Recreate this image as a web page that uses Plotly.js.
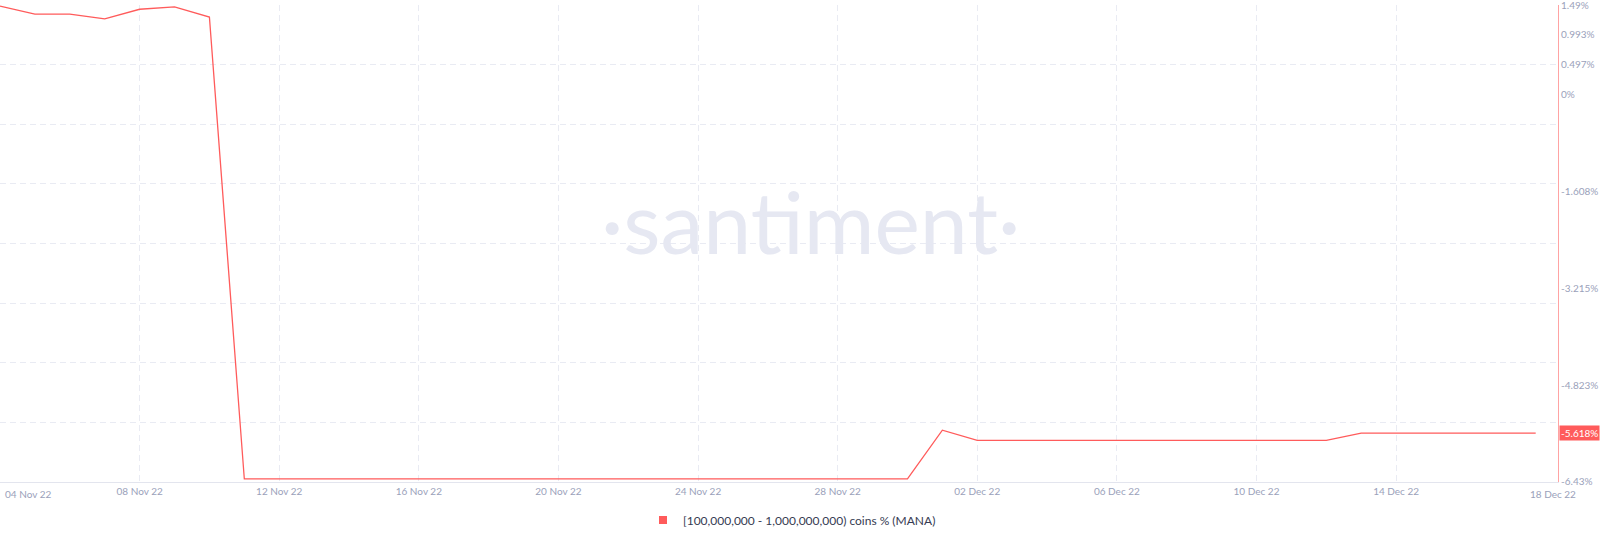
<!DOCTYPE html>
<html>
<head>
<meta charset="utf-8">
<script src="https://cdn.plot.ly/plotly-3.0.1.min.js"></script>
<style>
  html, body { margin: 0; padding: 0; background: #ffffff; }
  #chart { width: 1600px; height: 541px; }
</style>
</head>
<body>
<div id="chart"></div>
<script>
const dates = [
  '2022-11-04','2022-11-05','2022-11-06','2022-11-07','2022-11-08','2022-11-09','2022-11-10',
  '2022-11-11','2022-11-12','2022-11-13','2022-11-14','2022-11-15','2022-11-16','2022-11-17',
  '2022-11-18','2022-11-19','2022-11-20','2022-11-21','2022-11-22','2022-11-23','2022-11-24',
  '2022-11-25','2022-11-26','2022-11-27','2022-11-28','2022-11-29','2022-11-30',
  '2022-12-01','2022-12-02','2022-12-03','2022-12-04','2022-12-05','2022-12-06','2022-12-07',
  '2022-12-08','2022-12-09','2022-12-10','2022-12-11','2022-12-12',
  '2022-12-13','2022-12-14','2022-12-15','2022-12-16','2022-12-17','2022-12-18'
];
const values = [
  1.473, 1.34, 1.34, 1.26, 1.42, 1.46, 1.29,
  -6.38, -6.38, -6.38, -6.38, -6.38, -6.38, -6.38,
  -6.38, -6.38, -6.38, -6.38, -6.38, -6.38, -6.38,
  -6.38, -6.38, -6.38, -6.38, -6.38, -6.38,
  -5.57, -5.74, -5.74, -5.74, -5.74, -5.74, -5.74,
  -5.74, -5.74, -5.74, -5.74, -5.74,
  -5.618, -5.618, -5.618, -5.618, -5.618, -5.618
];
const seriesName = '[100,000,000 - 1,000,000,000) coins % (MANA)';
const lastValueLabel = '-5.618%';

const xTickVals = ['2022-11-04','2022-11-08','2022-11-12','2022-11-16','2022-11-20','2022-11-24',
                   '2022-11-28','2022-12-02','2022-12-06','2022-12-10','2022-12-14'];
const xTickText = ['', '08 Nov 22','12 Nov 22','16 Nov 22','20 Nov 22','24 Nov 22',
                   '28 Nov 22','02 Dec 22','06 Dec 22','10 Dec 22','14 Dec 22'];
const firstDateLabel = '04 Nov 22';
const lastDateLabel = '18 Dec 22';

const yTickVals = [1.49, 0.993, 0.497, 0, -1.608, -3.215, -4.823, -6.43];
const yTickText = ['1.49%', '0.993%', '0.497%', '0%', '-1.608%', '-3.215%', '-4.823%', '-6.43%'];
const yGridVals = [1.49, 0.50, -0.49, -1.48, -2.47, -3.46, -4.45, -5.44];
const yRange = [-6.4305, 1.4905];
const xRange = ['2022-11-04 00:00', '2022-12-18 15:20'];

const lineColor = '#ff5b5b';
const tickColor = '#9aa1ba';
const gridColor = '#e9ebf3';
const fontFam = 'Lato, "Open Sans", sans-serif';

const traces = [
  {
    x: [null], y: [null], type: 'scatter', mode: 'markers',
    marker: { symbol: 'square', size: 8, color: lineColor },
    name: seriesName, showlegend: true, yaxis: 'y'
  },
  {
    x: dates, y: values, type: 'scatter', mode: 'lines',
    line: { color: lineColor, width: 1.3 },
    showlegend: false, yaxis: 'y2', hoverinfo: 'x+y'
  }
];

const layout = {
  width: 1600, height: 541,
  margin: { l: 0, r: 42, t: 5, b: 59 },
  paper_bgcolor: '#ffffff', plot_bgcolor: '#ffffff',
  font: { family: fontFam, color: tickColor, size: 10 },
  xaxis: {
    type: 'date', range: xRange,
    tickmode: 'array', tickvals: xTickVals, ticktext: xTickText,
    showgrid: true, gridcolor: gridColor, griddash: '6px,4px', gridwidth: 1,
    showline: true, linecolor: '#e3e5ee', linewidth: 1,
    zeroline: false, ticks: '',
    tickfont: { family: fontFam, size: 10, color: tickColor }
  },
  yaxis: {
    side: 'left', range: yRange,
    tickmode: 'array', tickvals: yGridVals,
    showticklabels: false, showgrid: true, gridcolor: gridColor,
    griddash: '6px,4px', gridwidth: 1, zeroline: false, showline: false, ticks: ''
  },
  yaxis2: {
    overlaying: 'y', side: 'right', range: yRange,
    tickmode: 'array', tickvals: yTickVals, ticktext: yTickText,
    showgrid: false, zeroline: false,
    showline: true, linecolor: '#ffa3a3', linewidth: 1,
    ticks: '', ticklabeloverflow: 'allow',
    tickfont: { family: fontFam, size: 10, color: tickColor }
  },
  legend: {
    orientation: 'h', xref: 'container', yref: 'container',
    x: 0.495, xanchor: 'center', y: 0.039, yanchor: 'middle',
    font: { family: fontFam, size: 12, color: '#363b52' },
    itemwidth: 30, bgcolor: 'rgba(0,0,0,0)'
  },
  annotations: [
    {
      text: '·santiment·', xref: 'paper', yref: 'paper', x: 0.52, y: 0.548,
      xanchor: 'center', yanchor: 'middle', showarrow: false,
      font: { family: 'Lato, sans-serif', size: 86, color: '#e6e8f2' }
    },
    {
      text: firstDateLabel, xref: 'x', yref: 'paper', x: dates[0], y: 0,
      xanchor: 'left', yanchor: 'top', xshift: 3, yshift: -4, showarrow: false,
      font: { family: fontFam, size: 10, color: tickColor }
    },
    {
      text: lastDateLabel, xref: 'x', yref: 'paper', x: dates[dates.length - 1], y: 0,
      xanchor: 'center', yanchor: 'top', xshift: 17, yshift: -4, showarrow: false,
      font: { family: fontFam, size: 10, color: tickColor }
    },
    {
      text: lastValueLabel, xref: 'paper', yref: 'y2', x: 1, y: values[values.length - 1],
      xanchor: 'left', yanchor: 'middle', xshift: 1, showarrow: false,
      bgcolor: lineColor, borderpad: 1,
      font: { family: fontFam, size: 10, color: '#ffffff' }
    }
  ]
};

Plotly.newPlot('chart', traces, layout, { displayModeBar: false, staticPlot: true });
</script>
</body>
</html>
